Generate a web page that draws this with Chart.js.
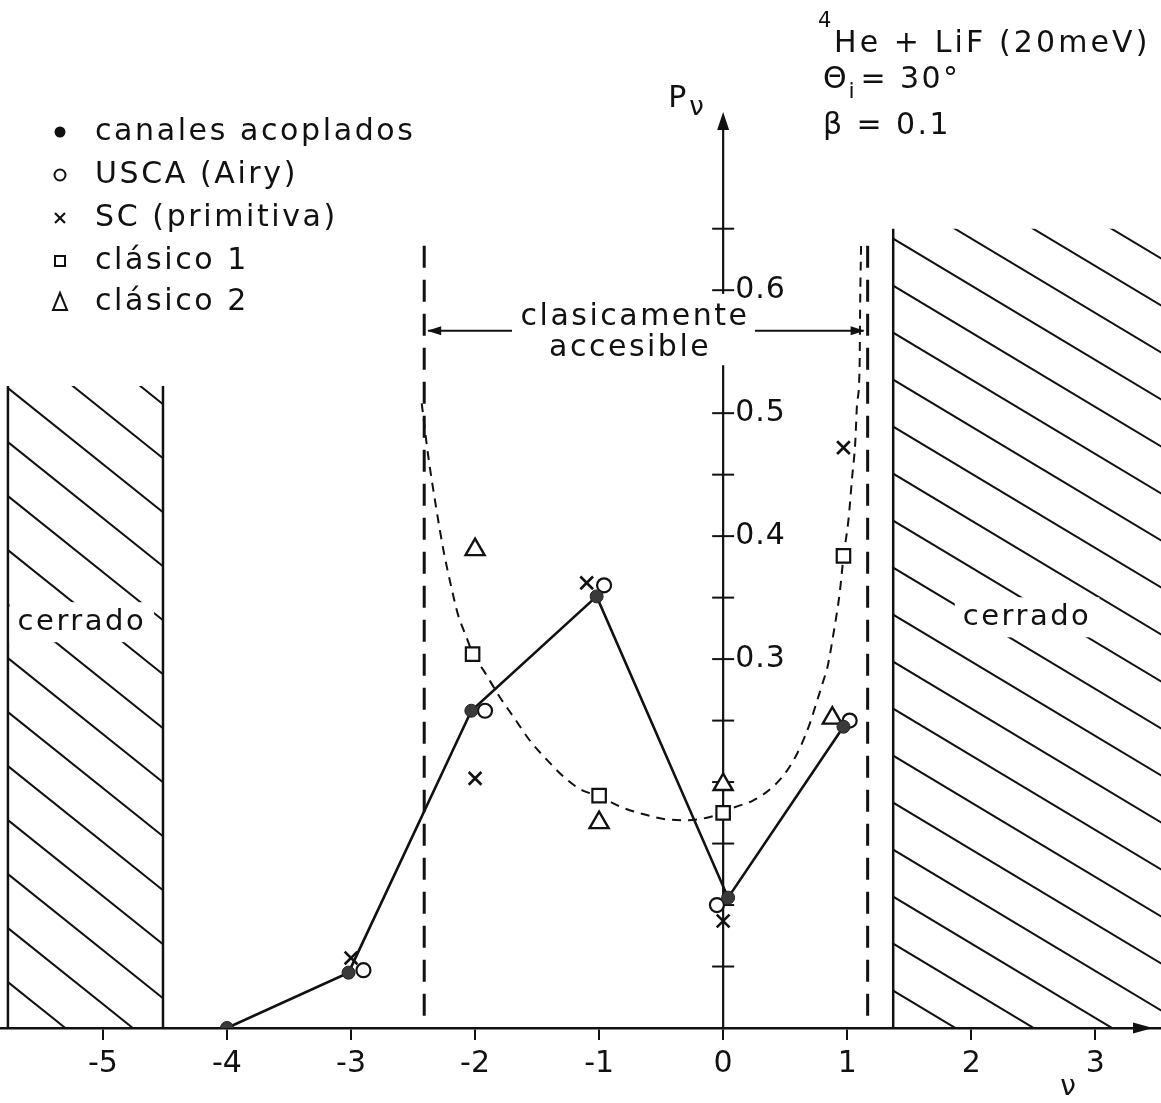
<!DOCTYPE html>
<html lang="es">
<head>
<meta charset="utf-8">
<title>Pν – 4He + LiF (20 meV)</title>
<script src="https://cdn.jsdelivr.net/npm/chart.js@4.4.1/dist/chart.umd.min.js"></script>
<style>
  html, body { margin: 0; padding: 0; background: #fff; }
  #wrap { width: 1161px; height: 1103px; position: relative; }
</style>
</head>
<body>
<div id="wrap"><canvas id="grafico"></canvas></div>
<script>
// probabilidades Pv por canal v, una serie por método
const vCanales = [-4, -3.02, -2.03, -1.02, 0.04, 0.97];
const pCanales = [0.0, 0.045, 0.258, 0.351, 0.106, 0.245];
const vUsca = [-2.9, -1.92, -0.96, -0.05, 1.02];
const pUsca = [0.047, 0.258, 0.36, 0.1, 0.25];
const vSc = [-3.0, -2.0, -1.1, 0.0, 0.97];
const pSc = [0.057, 0.203, 0.362, 0.087, 0.472];
const vClasico1 = [-2.02, -1.0, 0.0, 0.97];
const pClasico1 = [0.304, 0.189, 0.175, 0.384];
const vClasico2 = [-2.0, -1.0, 0.0, 0.88];
const pClasico2 = [0.389, 0.167, 0.198, 0.252];

// curva clásica continua (trazos finos)
const vCurva = [-2.43, -2.38, -2.32, -2.25, -2.19, -2.14, -2.07, -2.02, -1.92, -1.80, -1.69, -1.56, -1.42, -1.26, -1.13, -1.01, -0.83, -0.61,
  -0.48, -0.29, -0.13, 0.0, 0.08, 0.24, 0.40, 0.52, 0.62, 0.70, 0.76, 0.81, 0.84, 0.89, 0.94, 0.97, 1.01, 1.04, 1.065, 1.08, 1.10, 1.105, 1.113];
const pCurva = [0.508, 0.467, 0.427, 0.386, 0.358, 0.337, 0.318, 0.305, 0.289, 0.269, 0.253, 0.234, 0.218, 0.202, 0.193, 0.189, 0.180, 0.173,
  0.170, 0.169, 0.171, 0.175, 0.179, 0.185, 0.196, 0.210, 0.228, 0.248, 0.267, 0.283, 0.293, 0.321, 0.354, 0.383, 0.413, 0.448, 0.476, 0.508, 0.537, 0.592, 0.641];

// límites de la zona clásicamente accesible y zonas cerradas
const vLimites = [-2.41, 1.165];
const pLimites = [0.01, 0.645];
const cerradoIzq = [-5.766, -4.516, 0.522];
const cerradoDer = [1.371, 3.53, 0.650];

const xTicks = [-5, -4, -3, -2, -1, 0, 1, 2, 3];
const yTicks = [0.05, 0.1, 0.15, 0.2, 0.25, 0.3, 0.35, 0.4, 0.45, 0.5, 0.55, 0.6, 0.65];
const yEtiquetas = [0.3, 0.4, 0.5, 0.6];
const pFlechaY = 0.745;
const pFlechaAcc = 0.567;

const FUENTE = '"DejaVu Sans", "Liberation Sans", sans-serif';
const NEGRO = '#111';

function pares(vs, ps) {
  return vs.map((v, i) => ({ x: v, y: ps[i] }));
}

function texto(ctx, s, x, y, size, align, espacio) {
  ctx.save();
  ctx.font = size + 'px ' + FUENTE;
  ctx.fillStyle = NEGRO;
  ctx.textAlign = align || 'left';
  ctx.textBaseline = 'middle';
  ctx.letterSpacing = (espacio === undefined ? 2.5 : espacio) + 'px';
  ctx.fillText(s, x, y);
  const w = ctx.measureText(s).width;
  ctx.restore();
  return w;
}

function rayado(ctx, x0, x1, y0, y1, paso, pend, fase) {
  ctx.save();
  ctx.beginPath();
  ctx.rect(x0, y0, x1 - x0, y1 - y0);
  ctx.clip();
  ctx.strokeStyle = NEGRO;
  ctx.lineWidth = 2;
  const caida = (x1 - x0) * pend;
  for (let y = y0 + fase - Math.ceil(caida / paso) * paso; y < y1; y += paso) {
    ctx.beginPath();
    ctx.moveTo(x0, y);
    ctx.lineTo(x1, y + caida);
    ctx.stroke();
  }
  ctx.restore();
}

function etiquetaCerrado(ctx, x, y) {
  ctx.save();
  ctx.font = '29px ' + FUENTE;
  ctx.letterSpacing = '2.5px';
  const w = ctx.measureText('cerrado').width;
  ctx.fillStyle = '#fff';
  ctx.fillRect(x - w / 2 - 8, y - 20, w + 16, 40);
  ctx.restore();
  texto(ctx, 'cerrado', x, y, 29, 'center');
}

function linea(ctx, x0, y0, x1, y1, lw) {
  ctx.beginPath();
  ctx.moveTo(x0, y0);
  ctx.lineTo(x1, y1);
  ctx.lineWidth = lw;
  ctx.stroke();
}

function punta(ctx, x, y, dir, largo, ancho) {
  // dir: 'up', 'left', 'right'
  ctx.beginPath();
  ctx.moveTo(x, y);
  if (dir === 'up') {
    ctx.lineTo(x - ancho, y + largo);
    ctx.lineTo(x + ancho, y + largo);
  } else if (dir === 'left') {
    ctx.lineTo(x + largo, y - ancho);
    ctx.lineTo(x + largo, y + ancho);
  } else {
    ctx.lineTo(x - largo, y - ancho);
    ctx.lineTo(x - largo, y + ancho);
  }
  ctx.closePath();
  ctx.fill();
}

const fondo = {
  id: 'fondo',
  beforeDatasetsDraw(chart) {
    const ctx = chart.ctx;
    const sx = chart.scales.x, sy = chart.scales.y;
    const y0 = sy.getPixelForValue(0);
    ctx.save();
    ctx.strokeStyle = NEGRO;
    ctx.fillStyle = NEGRO;

    // zonas cerradas rayadas
    const a0 = sx.getPixelForValue(cerradoIzq[0]), a1 = sx.getPixelForValue(cerradoIzq[1]);
    const at = sy.getPixelForValue(cerradoIzq[2]);
    rayado(ctx, a0, a1, at, y0, 54, 0.8, 2);
    linea(ctx, a0, at, a0, y0, 2.5);
    linea(ctx, a1, at, a1, y0, 2.5);
    etiquetaCerrado(ctx, sx.getPixelForValue(-5.17), sy.getPixelForValue(0.33));

    const b0 = sx.getPixelForValue(cerradoDer[0]), b1 = sx.getPixelForValue(cerradoDer[1]);
    const bt = sy.getPixelForValue(cerradoDer[2]);
    rayado(ctx, b0, b1 + 2, bt, y0, 47, 0.6, 10);
    linea(ctx, b0, bt, b0, y0, 2.5);
    etiquetaCerrado(ctx, sx.getPixelForValue(2.45), sy.getPixelForValue(0.334));

    // eje vertical Pv con flecha
    const x0 = sx.getPixelForValue(0);
    const yTop = sy.getPixelForValue(pFlechaY);
    const gapA = sy.getPixelForValue(0.597), gapB = sy.getPixelForValue(0.539);
    linea(ctx, x0, y0, x0, gapB, 2.2);
    linea(ctx, x0, gapA, x0, yTop + 10, 2.2);
    punta(ctx, x0, yTop, 'up', 18, 6);
    yTicks.forEach(p => {
      const y = sy.getPixelForValue(p);
      if (y > gapA && y < gapB) return;
      linea(ctx, x0 - 11, y, x0 + 11, y, 2);
    });
    yEtiquetas.forEach(p => {
      texto(ctx, p.toFixed(1), x0 + 12, sy.getPixelForValue(p), 30, 'left', 1);
    });

    // flecha final del eje horizontal
    punta(ctx, chart.chartArea.right - 8, y0, 'right', 20, 5.5);
    ctx.restore();
  },
  afterDatasetsDraw(chart) {
    const ctx = chart.ctx;
    const sx = chart.scales.x, sy = chart.scales.y;
    ctx.save();
    ctx.strokeStyle = NEGRO;
    ctx.fillStyle = NEGRO;

    // "clasicamente accesible" con flechas a los límites
    const ya = sy.getPixelForValue(pFlechaAcc);
    const xl = sx.getPixelForValue(vLimites[0]), xr = sx.getPixelForValue(vLimites[1]);
    linea(ctx, xl + 4, ya, 512, ya, 2);
    linea(ctx, 755, ya, xr - 4, ya, 2);
    punta(ctx, xl + 3, ya, 'left', 14, 4.5);
    punta(ctx, xr - 3, ya, 'right', 14, 4.5);
    texto(ctx, 'clasicamente', sx.getPixelForValue(-0.71), sy.getPixelForValue(0.578), 30, 'center');
    texto(ctx, 'accesible', sx.getPixelForValue(-0.75), sy.getPixelForValue(0.553), 30, 'center');

    // rótulo del eje vertical
    const x0 = sx.getPixelForValue(0);
    texto(ctx, 'P', x0 - 55, 99, 30, 'left', 0);
    texto(ctx, 'ν', x0 - 34, 108, 26, 'left', 0);
    // rótulo del eje horizontal
    texto(ctx, 'ν', sx.getPixelForValue(2.78), 1088, 28, 'center', 0);

    // leyenda
    const lx = 60;
    const filas = [132, 175, 218, 261, 302];
    const nombres = ['canales acoplados', 'USCA (Airy)', 'SC (primitiva)', 'clásico 1', 'clásico 2'];
    ctx.lineWidth = 2;
    ctx.beginPath(); ctx.arc(lx, filas[0], 5.5, 0, Math.PI * 2); ctx.fill();
    ctx.beginPath(); ctx.arc(lx, filas[1], 5.5, 0, Math.PI * 2); ctx.stroke();
    linea(ctx, lx - 5, filas[2] - 5, lx + 5, filas[2] + 5, 2.2);
    linea(ctx, lx + 5, filas[2] - 5, lx - 5, filas[2] + 5, 2.2);
    ctx.lineWidth = 2;
    ctx.strokeRect(lx - 5, filas[3] - 5, 10, 10);
    ctx.beginPath();
    ctx.moveTo(lx, filas[4] - 9); ctx.lineTo(lx - 7, filas[4] + 8); ctx.lineTo(lx + 7, filas[4] + 8);
    ctx.closePath(); ctx.stroke();
    nombres.forEach((n, i) => texto(ctx, n, 95, filas[i], 30, 'left', 2.6));

    // condiciones del cálculo
    texto(ctx, '4', 818, 22, 21, 'left', 0);
    texto(ctx, 'He + LiF (20meV)', 834, 44, 30, 'left', 3.1);
    const w = texto(ctx, 'Θ', 823, 80, 30, 'left', 0);
    texto(ctx, 'i', 823 + w + 2, 92, 22, 'left', 0);
    texto(ctx, '= 30°', 823 + w + 14, 80, 30, 'left', 2.4);
    texto(ctx, 'β = 0.1', 823, 126, 30, 'left', 2.4);
    ctx.restore();
  }
};

const datasets = [
  {
    label: 'canales acoplados',
    data: pares(vCanales, pCanales),
    showLine: true,
    borderColor: NEGRO,
    borderWidth: 2.6,
    pointStyle: 'circle',
    pointRadius: 6.5,
    pointBackgroundColor: '#3a3a3a',
    pointBorderColor: '#222',
    pointBorderWidth: 1
  },
  {
    label: 'USCA (Airy)',
    data: pares(vUsca, pUsca),
    showLine: false,
    pointStyle: 'circle',
    pointRadius: 7,
    pointBackgroundColor: '#fff',
    pointBorderColor: NEGRO,
    pointBorderWidth: 2.2
  },
  {
    label: 'SC (primitiva)',
    data: pares(vSc, pSc),
    showLine: false,
    pointStyle: 'crossRot',
    pointRadius: 9,
    pointBorderColor: NEGRO,
    pointBorderWidth: 2.6
  },
  {
    label: 'clásico 1',
    data: pares(vClasico1, pClasico1),
    showLine: false,
    pointStyle: 'rect',
    pointRadius: 9.5,
    pointBackgroundColor: '#fff',
    pointBorderColor: NEGRO,
    pointBorderWidth: 2.2
  },
  {
    label: 'clásico 2',
    data: pares(vClasico2, pClasico2),
    showLine: false,
    pointStyle: 'triangle',
    pointRadius: 11,
    pointBackgroundColor: '#fff',
    pointBorderColor: NEGRO,
    pointBorderWidth: 2.4
  },
  {
    label: 'curva clásica',
    data: pares(vCurva, pCurva),
    showLine: true,
    cubicInterpolationMode: 'monotone',
    borderColor: NEGRO,
    borderWidth: 2,
    borderDash: [9, 7],
    pointRadius: 0
  },
  {
    label: 'límite izquierdo',
    data: pares([vLimites[0], vLimites[0]], pLimites),
    showLine: true,
    borderColor: NEGRO,
    borderWidth: 3,
    borderDash: [22, 12],
    pointRadius: 0
  },
  {
    label: 'límite derecho',
    data: pares([vLimites[1], vLimites[1]], pLimites),
    showLine: true,
    borderColor: NEGRO,
    borderWidth: 3,
    borderDash: [22, 12],
    pointRadius: 0
  }
];

new Chart(document.getElementById('grafico'), {
  type: 'scatter',
  data: { datasets: datasets },
  options: {
    responsive: true,
    maintainAspectRatio: false,
    animation: false,
    layout: { padding: 0, autoPadding: false },
    plugins: {
      legend: { display: false },
      tooltip: { enabled: false }
    },
    scales: {
      x: {
        type: 'linear',
        min: -5.83,
        max: 3.53,
        afterBuildTicks: s => { s.ticks = xTicks.map(v => ({ value: v })); },
        afterFit: s => { s.height = 75; s.paddingLeft = 0; s.paddingRight = 0; },
        grid: { drawOnChartArea: false, drawTicks: true, tickLength: 12, color: NEGRO, lineWidth: 2 },
        border: { display: true, color: NEGRO, width: 2.5 },
        ticks: {
          color: NEGRO,
          padding: 6,
          font: { family: FUENTE, size: 30 },
          callback: v => String(v)
        }
      },
      y: {
        type: 'linear',
        min: 0,
        max: 0.836,
        display: false
      }
    }
  },
  plugins: [fondo]
});
</script>
</body>
</html>
